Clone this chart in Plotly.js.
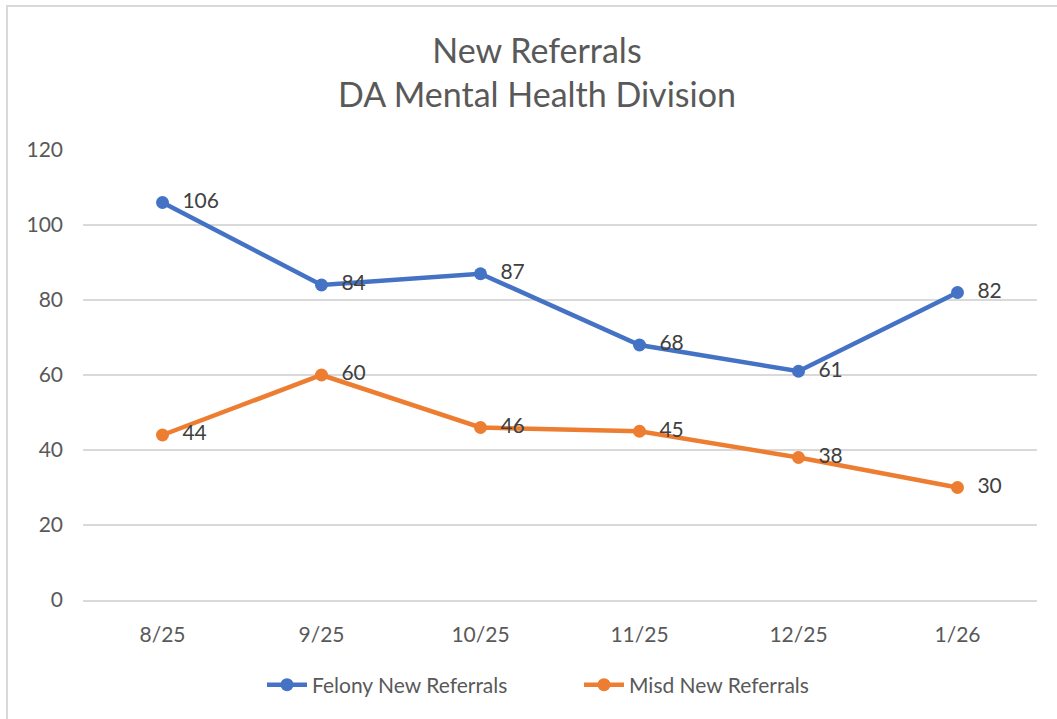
<!DOCTYPE html>
<html>
<head>
<meta charset="utf-8">
<script src="https://cdn.plot.ly/plotly-3.0.1.min.js"></script>
<style>
  html, body { margin: 0; padding: 0; background: #fff; overflow: hidden; }
  #chart { position: absolute; left: 0; top: 0; width: 1057px; height: 719px; }
  #frame { position: absolute; left: 6px; top: 5px; width: 1100px; height: 800px;
           border: 2px solid #d9d9d9; pointer-events: none; }
</style>
</head>
<body>
<div id="chart"></div>
<div id="frame"></div>
<script>
const months = ["8/25", "9/25", "10/25", "11/25", "12/25", "1/26"];
const felonyValues = [106, 84, 87, 68, 61, 82];
const misdValues = [44, 60, 46, 45, 38, 30];
const felonyName = "Felony New Referrals";
const misdName = "Misd New Referrals";

const FONT = "Lato, 'Open Sans', sans-serif";

function series(name, values, color) {
  return {
    type: "scatter",
    mode: "lines+markers+text",
    name: name,
    x: months,
    y: values,
    text: values.map(v => "  " + v),
    textposition: "middle right",
    textfont: { family: FONT, size: 21, color: "#404040" },
    line: { color: color, width: 4.5 },
    marker: { color: color, size: 13 },
    cliponaxis: false
  };
}

const data = [
  series(felonyName, felonyValues, "#4472C4"),
  series(misdName, misdValues, "#ED7D31")
];

const layout = {
  width: 1057,
  height: 719,
  paper_bgcolor: "#ffffff",
  plot_bgcolor: "#ffffff",
  font: { family: FONT, color: "#595959", size: 20 },
  margin: { l: 83, r: 20, t: 150, b: 119 },
  title: {
    text: "New Referrals<br>DA Mental Health Division",
    font: { family: FONT, size: 34, color: "#595959" },
    x: 0.508, xanchor: "center", xref: "container",
    y: 1 - 63 / 719, yanchor: "middle", yref: "container"
  },
  xaxis: {
    type: "category",
    tickfont: { family: FONT, size: 21, color: "#595959" },
    showgrid: false,
    zeroline: false,
    showline: true,
    linecolor: "#d9d9d9",
    linewidth: 2,
    ticks: "",
    ticklabelstandoff: 15,
    range: [-0.5, 5.5]
  },
  yaxis: {
    range: [0, 120],
    dtick: 20,
    tick0: 0,
    tickfont: { family: FONT, size: 21, color: "#595959" },
    showgrid: true,
    gridcolor: "#d9d9d9",
    gridwidth: 1.5,
    zeroline: false,
    showline: false,
    ticks: "",
    ticklabelstandoff: 19
  },
  showlegend: true,
  legend: {
    orientation: "h",
    x: (262 - 83) / 954, xanchor: "left",
    y: -(685 - 600) / 450, yanchor: "middle",
    font: { family: FONT, size: 21, color: "#595959" },
    itemwidth: 40,
    entrywidth: 262,
    tracegroupgap: 0
  }
};

Plotly.newPlot("chart", data, layout, { staticPlot: true, displayModeBar: false });
</script>
</body>
</html>
